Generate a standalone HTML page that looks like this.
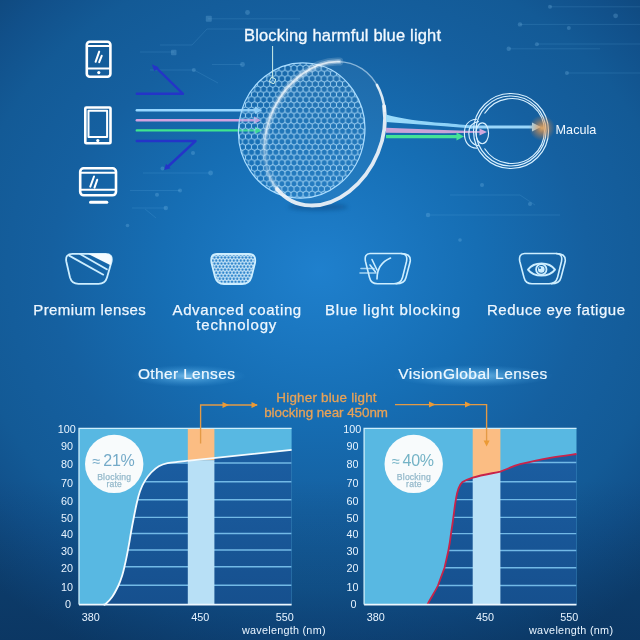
<!DOCTYPE html>
<html><head><meta charset="utf-8"><title>Blue light blocking lenses</title>
<style>
html,body{margin:0;padding:0;width:640px;height:640px;overflow:hidden;background:#114a80}
svg{display:block}
text{font-family:"Liberation Sans",Arial,sans-serif}
</style></head><body>
<svg width="640" height="640" viewBox="0 0 640 640">
<defs>
  <radialGradient id="bg" cx="320" cy="270" r="480" gradientUnits="userSpaceOnUse" gradientTransform="translate(320 270) scale(1 0.896) translate(-320 -270)">
    <stop offset="0" stop-color="#1f80cd"/>
    <stop offset="0.33" stop-color="#166eb4"/>
    <stop offset="0.56" stop-color="#1560a0"/>
    <stop offset="0.74" stop-color="#135a96"/>
    <stop offset="0.85" stop-color="#11508a"/>
    <stop offset="1" stop-color="#0e4273"/>
  </radialGradient>
  <linearGradient id="bgdark" x1="0" y1="0" x2="0" y2="640" gradientUnits="userSpaceOnUse">
    <stop offset="0" stop-color="#051e40" stop-opacity="0"/>
    <stop offset="0.75" stop-color="#051e40" stop-opacity="0"/>
    <stop offset="1" stop-color="#051e40" stop-opacity="0.3"/>
  </linearGradient>
  <pattern id="hex" width="6.062" height="10.500" patternUnits="userSpaceOnUse" x="0" y="0">
    <rect width="6.062" height="10.500" fill="#2a7abf" fill-opacity="0.12"/>
    <path d="M0.00,-3.50 L3.03,-1.75 L3.03,1.75 L0.00,3.50 L-3.03,1.75 L-3.03,-1.75 Z M6.06,-3.50 L9.09,-1.75 L9.09,1.75 L6.06,3.50 L3.03,1.75 L3.03,-1.75 Z M3.03,1.75 L6.06,3.50 L6.06,7.00 L3.03,8.75 L-0.00,7.00 L0.00,3.50 Z M0.00,7.00 L3.03,8.75 L3.03,12.25 L0.00,14.00 L-3.03,12.25 L-3.03,8.75 Z M6.06,7.00 L9.09,8.75 L9.09,12.25 L6.06,14.00 L3.03,12.25 L3.03,8.75 Z M-3.03,1.75 L0.00,3.50 L0.00,7.00 L-3.03,8.75 L-6.06,7.00 L-6.06,3.50 Z M9.09,1.75 L12.12,3.50 L12.12,7.00 L9.09,8.75 L6.06,7.00 L6.06,3.50 Z" fill="none" stroke="#a6d8f8" stroke-width="0.95" stroke-opacity="0.9"/>
  </pattern>
  <pattern id="hexs" width="3.5" height="6.06" patternUnits="userSpaceOnUse" x="211" y="253">
    <rect width="3.5" height="6.06" fill="#d6eefc"/>
    <circle cx="1.75" cy="1.52" r="1.28" fill="#2f86cc"/>
    <circle cx="0" cy="4.55" r="1.28" fill="#2f86cc"/>
    <circle cx="3.5" cy="4.55" r="1.28" fill="#2f86cc"/>
  </pattern>
  <clipPath id="meshclip"><ellipse cx="301.7" cy="130.5" rx="63.1" ry="67.75" transform="rotate(8.63 301.7 130.5)"/></clipPath>
  <radialGradient id="glowO" cx="0.5" cy="0.5" r="0.5">
    <stop offset="0" stop-color="#f7b060" stop-opacity="0.9"/>
    <stop offset="0.35" stop-color="#e8964a" stop-opacity="0.6"/>
    <stop offset="1" stop-color="#d08040" stop-opacity="0"/>
  </radialGradient>
  <radialGradient id="titleGlow" cx="0.5" cy="0.5" r="0.5">
    <stop offset="0" stop-color="#90d2fa" stop-opacity="0.75"/>
    <stop offset="0.45" stop-color="#6cc0f4" stop-opacity="0.4"/>
    <stop offset="1" stop-color="#4aa6e6" stop-opacity="0"/>
  </radialGradient>
  <linearGradient id="beamB" x1="0" y1="0" x2="1" y2="0">
    <stop offset="0" stop-color="#9cdcfb"/>
    <stop offset="1" stop-color="#86cdf6"/>
  </linearGradient>
  <linearGradient id="arcfade" x1="0" y1="60" x2="0" y2="190" gradientUnits="userSpaceOnUse">
    <stop offset="0" stop-color="#ffffff" stop-opacity="1"/>
    <stop offset="0.55" stop-color="#f4faff" stop-opacity="0.85"/>
    <stop offset="0.8" stop-color="#f4faff" stop-opacity="0.25"/>
    <stop offset="1" stop-color="#f4faff" stop-opacity="0.7"/>
  </linearGradient>
  <clipPath id="clipL"><path d="M103.6,604.6 C103.9,604.5 104.1,605.3 105.6,604.0 C107.0,602.7 110.2,599.7 112.3,596.7 C114.4,593.7 116.5,589.5 118.2,586.0 C119.9,582.5 121.1,579.0 122.2,575.5 C123.3,572.0 124.1,568.1 124.9,564.8 C125.7,561.5 126.2,558.8 126.9,555.5 C127.6,552.2 128.2,548.6 128.9,544.9 C129.6,541.1 130.1,537.6 130.9,533.0 C131.7,528.4 132.8,522.6 133.8,517.5 C134.8,512.4 135.9,506.9 136.9,502.5 C137.9,498.1 138.7,494.9 140.0,491.2 C141.3,487.6 143.1,483.7 145.0,480.6 C146.9,477.5 149.0,474.9 151.2,472.5 C153.5,470.1 156.0,467.8 158.8,466.2 C161.5,464.7 164.4,463.8 167.5,463.1 C170.6,462.4 175.4,462.1 177.5,461.9 L291.6,449.8 L291.6,604.6 Z"/></clipPath>
  <clipPath id="clipR"><path d="M427.3,604.6 C432,596 436,590 438,585.5 C441,577 443,572 444.5,567.7 C446,561 447.5,555 448.4,550.5 C449.7,544 450.5,538 451,533.6 C452,527 453,521 453.4,517.2 C454.5,509 455,504 455.8,500 C457,492 459,485 462.5,482 C466,480 470,478.5 472.7,477.6 C482,475 492,473.4 500.4,471.6 C506,469.6 513,466 520,464.2 C530,461.8 540,459.6 550,457.8 C560,456.2 570,454.9 576.5,454 L576.5,604.6 Z"/></clipPath>
  <linearGradient id="darkg" x1="0" y1="450" x2="0" y2="605" gradientUnits="userSpaceOnUse">
    <stop offset="0" stop-color="#1b5ea2"/>
    <stop offset="1" stop-color="#16508e"/>
  </linearGradient>
  <filter id="soft" x="-10%" y="-10%" width="120%" height="120%"><feGaussianBlur stdDeviation="0.7"/></filter>
  <filter id="blur2" x="-50%" y="-200%" width="200%" height="500%"><feGaussianBlur stdDeviation="2"/></filter>
  <marker id="ah" viewBox="0 0 10 10" refX="8" refY="5" markerWidth="4" markerHeight="4" orient="auto">
    <path d="M0,0 L10,5 L0,10 z" fill="context-stroke"/>
  </marker>
</defs>

<!-- background -->
<rect width="640" height="640" fill="url(#bg)"/>
<rect width="640" height="640" fill="url(#bgdark)"/>

<!-- faint circuit decorations -->
<g fill="none" stroke="#7cc4f0" stroke-width="0.9" opacity="0.16" filter="url(#soft)">
  <polyline points="160,45 192,45 207,29 280,29"/>
  <line x1="208" y1="18.8" x2="300" y2="18.8"/>
  <line x1="212" y1="64.5" x2="242" y2="64.5"/>
  <polyline points="150,70 194,70 218,83"/>
  <polyline points="140,52 174,52"/>
  <line x1="520" y1="24.4" x2="640" y2="24.4"/>
  <line x1="509" y1="48.8" x2="600" y2="48.8"/>
  <line x1="537" y1="44" x2="640" y2="44"/>
  <line x1="567" y1="73" x2="640" y2="73"/>
  <line x1="550" y1="6.8" x2="640" y2="6.8"/>
  <line x1="430" y1="215" x2="560" y2="215"/>
  <polyline points="450,195 520,195 535,205"/>
  <line x1="143" y1="173" x2="210" y2="173"/>
  <line x1="130" y1="190.5" x2="180" y2="190.5"/>
  <line x1="132" y1="208" x2="166" y2="208"/>
  <line x1="145" y1="209" x2="156" y2="218"/>
</g>
<g fill="#8ccaf2" opacity="0.24" filter="url(#soft)">
  <rect x="205.8" y="15.8" width="6" height="6" rx="1"/>
  <rect x="171" y="49.8" width="5.5" height="5.5" rx="1"/>
  <circle cx="247.5" cy="12.5" r="2.4"/>
  <circle cx="242.5" cy="64.5" r="2.4"/>
  <circle cx="193.8" cy="70" r="2"/>
  <circle cx="520" cy="24.4" r="2.2"/>
  <circle cx="508.7" cy="48.8" r="2.2"/>
  <circle cx="550" cy="6.8" r="2"/>
  <circle cx="536.9" cy="44.2" r="2"/>
  <circle cx="615.6" cy="15.8" r="2.4"/>
  <circle cx="568.8" cy="28" r="2"/>
  <circle cx="566.9" cy="73" r="2"/>
  <circle cx="428" cy="215" r="2.2"/>
  <circle cx="482" cy="185" r="2"/>
  <circle cx="530" cy="204" r="2"/>
  <circle cx="460" cy="240" r="1.8"/>
  <circle cx="210.6" cy="173" r="2.4"/>
  <circle cx="180" cy="190.5" r="2"/>
  <circle cx="157" cy="194.8" r="2"/>
  <circle cx="165.8" cy="208" r="2.2"/>
  <circle cx="127.5" cy="225.5" r="1.8"/>
  <circle cx="162.5" cy="168.6" r="2"/>
  <circle cx="193" cy="153" r="2"/>
</g>

<!-- ========== TOP ILLUSTRATION ========== -->
<!-- device icons -->
<g fill="none" stroke="#ffffff" stroke-width="2.6" stroke-linejoin="round" stroke-linecap="round">
  <!-- phone -->
  <rect x="86.8" y="41.8" width="23.6" height="35" rx="3"/>
  <line x1="87" y1="46" x2="110" y2="46" stroke-width="2"/>
  <line x1="87" y1="68.5" x2="110" y2="68.5" stroke-width="2"/>
  <line x1="99.2" y1="51.6" x2="95.6" y2="61.8" stroke-width="2"/>
  <line x1="101.7" y1="55.8" x2="99.2" y2="62.2" stroke-width="2"/>
  <!-- tablet -->
  <rect x="85.3" y="107.5" width="25.2" height="35.8" rx="1"/>
  <rect x="88.5" y="110.8" width="18.6" height="26.2" stroke-width="2"/>
  <!-- monitor -->
  <rect x="80.2" y="168.3" width="35.8" height="27" rx="3.5"/>
  <line x1="80.5" y1="172.8" x2="116" y2="172.8" stroke-width="2"/>
  <line x1="80.5" y1="189.8" x2="116" y2="189.8" stroke-width="2"/>
  <line x1="94" y1="176.5" x2="90.3" y2="186.6" stroke-width="2"/>
  <line x1="97.2" y1="179.8" x2="94.5" y2="187.6" stroke-width="2"/>
  <line x1="90.5" y1="202.2" x2="106.8" y2="202.2" stroke-width="3"/>
</g>
<circle cx="98.8" cy="72.6" r="1.6" fill="#fff"/>
<circle cx="97.8" cy="140.6" r="1.6" fill="#fff"/>

<!-- incoming rays -->
<g fill="none" stroke-width="2.4" stroke-linecap="round" stroke-linejoin="round">
  <polyline points="136.8,93.8 183,93.8 156,67.5" stroke="#2434c8"/>
  <polyline points="136.8,141 195.5,141 168,166.5" stroke="#2434c8"/>
</g>
<path d="M151.8,64.2 L158.6,67.2 L154.3,71.3 Z" fill="#2434c8"/>
<path d="M164.2,170 L166,163.8 L170.6,168.2 Z" fill="#2434c8"/>

<!-- straight rays to lens -->
<g stroke-width="2.4" stroke-linecap="round">
  <line x1="136.8" y1="110.3" x2="256" y2="110.3" stroke="#96d6ff"/>
  <line x1="136.8" y1="120.2" x2="256" y2="120.2" stroke="#d2a2df"/>
  <line x1="136.8" y1="130.4" x2="256" y2="130.4" stroke="#3fe58f"/>
</g>
<path d="M255,106.6 L262,110.3 L255,114 Z" fill="#96d6ff"/>
<path d="M254,116.5 L261,120.2 L254,123.9 Z" fill="#d2a2df"/>
<path d="M255,126.7 L262,130.4 L255,134.1 Z" fill="#3fe58f"/>

<!-- lens shadow -->
<ellipse cx="318" cy="207" rx="30" ry="3.5" fill="#0a3f78" opacity="0.45" filter="url(#blur2)"/>
<!-- lens mesh face -->
<g clip-path="url(#meshclip)">
  <rect x="230" y="55" width="145" height="155" fill="url(#hex)"/>
</g>
<ellipse cx="301.7" cy="130.5" rx="63.1" ry="67.75" transform="rotate(8.63 301.7 130.5)" fill="none" stroke="#a8dcff" stroke-width="1.2"/>

<!-- lens body -->
<ellipse cx="324.65" cy="133.53" rx="56.577" ry="74.980" transform="rotate(25.248 324.65 133.53)" fill="#ffffff" fill-opacity="0.045"/>
<!-- front white arc (soft) -->
<path d="M339.26,61.58 A56.577,74.980 25.248 0 0 277.10,189.00" fill="none" stroke="url(#arcfade)" stroke-width="8" stroke-opacity="0.16" stroke-linecap="round"/>
<path d="M339.26,61.58 A56.577,74.980 25.248 0 0 277.10,189.00" fill="none" stroke="url(#arcfade)" stroke-width="4.5" stroke-opacity="0.35" stroke-linecap="round"/>
<path d="M339.26,61.58 A56.577,74.980 25.248 0 0 277.10,189.00" fill="none" stroke="url(#arcfade)" stroke-width="1.8" stroke-opacity="0.7" stroke-linecap="round"/>
<!-- rim -->
<path d="M337.21,61.55 A56.577,74.980 25.248 0 1 378.89,88.81" fill="none" stroke="#e0f2ff" stroke-width="1.3" stroke-opacity="0.55"/>
<path d="M376.92,84.98 A56.577,74.980 25.248 0 1 384.67,110.79" fill="none" stroke="#eef6fc" stroke-width="2.6" stroke-opacity="0.9" stroke-linecap="round"/>
<path d="M384.08,106.09 A56.577,74.980 25.248 0 1 277.10,189.00" fill="none" stroke="#f1f4f9" stroke-width="3.8" stroke-opacity="0.92" stroke-linecap="round"/>

<!-- beams to eye -->
<path d="M386,114.4 C400,118.5 420,121.2 444,123 C455,124 465,125 472,125.6 L472,128.4 C460,127.6 452,126.9 444,126.3 L386,122 Z" fill="url(#beamB)"/>
<line x1="470" y1="127" x2="534" y2="127" stroke="#9ad6fa" stroke-width="2.8"/>
<path d="M532,122.6 L541,127 L532,131.4 Z" fill="#a6dcfb"/>
<path d="M386,127.7 L444,130 L481,131.3 L481,132.7 L444,133.3 L386,132.8 Z" fill="#caa2d8"/>
<path d="M479.5,128.4 L487,132 L479.5,135.6 Z" fill="#d0a8dc"/>
<line x1="386" y1="136.6" x2="458" y2="136.6" stroke="#45e396" stroke-width="3.4"/>
<path d="M456.5,132.6 L464,136.6 L456.5,140.6 Z" fill="#45e396"/>

<!-- eye -->
<g fill="none" stroke="#d8f0ff" stroke-width="1.15">
  <circle cx="511" cy="131" r="37.5"/>
  <circle cx="511" cy="131" r="35"/>
  <path d="M484.5,113.5 A32.5,32.5 0 1 1 484.5,148.5"/>
  <path d="M477,119.2 C468,119.5 464.4,126 464.4,133.5 C464.4,141 468,148 477,148.2"/>
  <path d="M479,121.5 C471.5,122.5 468.8,128 468.8,133.5 C468.8,139 471.5,145 479,145.8"/>
  <ellipse cx="482.3" cy="133.3" rx="6.3" ry="10.4"/>
</g>
<circle cx="542" cy="128" r="13" fill="url(#glowO)"/>
<!-- callout for lens -->
<line x1="272.6" y1="46" x2="272.6" y2="77.6" stroke="#cdeee6" stroke-width="1"/>
<rect x="270" y="77.9" width="5.2" height="5.2" rx="1.5" fill="none" stroke="#cdeee6" stroke-width="1" transform="rotate(25 272.6 80.5)"/>

<text x="244" y="40.7" font-size="16.5" fill="#f2f9ff" stroke="#f2f9ff" stroke-width="0.3" textLength="197" lengthAdjust="spacing">Blocking harmful blue light</text>
<text x="555.6" y="133.8" font-size="12.6" fill="#f2f9ff" textLength="40.7" lengthAdjust="spacing">Macula</text>

<!-- ========== FEATURE ICONS ========== -->
<g fill="none" stroke="#cdeeff" stroke-width="1.8" stroke-linejoin="round">
  <!-- icon1 -->
  <path d="M72.5,253.8 L105.5,253.8 C110.5,253.8 112.5,256.5 111.6,261.5 L107,277.5 C105.8,281.8 103,283.8 98.5,283.8 L78.5,283.8 C74,283.8 71.2,281.8 70,277.5 L66.3,261.5 C65.4,256.5 67.5,253.8 72.5,253.8 Z"/>
  <line x1="68.7" y1="255.4" x2="103.8" y2="275"/>
  <line x1="79.6" y1="253.8" x2="107.6" y2="269.8"/>
</g>
<path d="M87.8,253.8 L105.5,253.8 C110.5,253.8 112.5,256.5 111.6,261.5 L110.6,265.3 Z" fill="#f4fbff"/>
<!-- icon2 (mesh) -->
<path d="M217,254 L249,254 C254,254 256,257 255,263 L251.5,277 C250,282 247,284 242,284 L224,284 C219,284 216.5,282 215,277 L211.5,263 C210.5,257 212,254 217,254 Z" fill="url(#hexs)" stroke="#cdeeff" stroke-width="1.8"/>
<!-- icon3 -->
<g fill="none" stroke="#cdeeff" stroke-width="1.6" stroke-linejoin="round" stroke-linecap="round">
  <path d="M370,253.5 L401,253.5 C406,253.5 407.5,256.5 406.5,261.5 L402.5,277.5 C401.3,282 398.5,283.8 394,283.8 L377.5,283.8 C373,283.8 370.5,281.8 369.5,277.5 L365.5,261.5 C364.5,256.5 366,253.5 370,253.5 Z"/>
  <path d="M401,253.5 C407,253.5 411,255.5 410.2,261.5 L406,277.5 C405,282 402,283.8 396,283.8"/>
  <path d="M377,279 C377,270 381,262 390.5,258"/>
  <line x1="372" y1="259.5" x2="377" y2="270"/>
  <line x1="370" y1="265" x2="375.5" y2="272"/>
  <line x1="361" y1="268.5" x2="374" y2="268.5" stroke-opacity="0.75"/>
  <line x1="360" y1="273" x2="376" y2="273" stroke-opacity="0.75"/>
</g>
<!-- icon4 -->
<g fill="none" stroke="#cdeeff" stroke-width="1.6" stroke-linejoin="round">
  <path d="M524.5,253.5 L556,253.5 C561,253.5 562.5,256.5 561.5,261.5 L557.5,277.5 C556.3,282 553.5,283.8 549,283.8 L532,283.8 C527.5,283.8 525,281.8 524,277.5 L519.8,261.5 C518.8,256.5 520.5,253.5 524.5,253.5 Z"/>
  <path d="M556,253.5 C562,253.5 566,255.5 565.2,261.5 L561,277.5 C560,282 557,283.8 551,283.8"/>
  <path d="M528,269.6 C534,261.5 549,261.5 555,269.6 C549,277.6 534,277.6 528,269.6 Z" stroke-width="1.9"/>
  <circle cx="541.3" cy="269.4" r="5.2" stroke-width="1.8"/>
</g>
<circle cx="541.3" cy="269.4" r="3.3" fill="#cdeeff"/>
<circle cx="540" cy="268" r="1.1" fill="#1a6fb8"/>

<!-- labels -->
<g font-size="15" fill="#eef7ff" stroke="#eef7ff" stroke-width="0.25">
  <text x="33.3" y="315" textLength="112.5" lengthAdjust="spacing">Premium lenses</text>
  <text x="172.5" y="315" textLength="128.7" lengthAdjust="spacing">Advanced coating</text>
  <text x="196.3" y="330" textLength="80" lengthAdjust="spacing">technology</text>
  <text x="325" y="315" textLength="135" lengthAdjust="spacing">Blue light blocking</text>
  <text x="487" y="315" textLength="138" lengthAdjust="spacing">Reduce eye fatigue</text>
</g>

<!-- ========== CHARTS ========== -->
<ellipse cx="188" cy="376" rx="58" ry="11" fill="url(#titleGlow)"/>
<ellipse cx="473" cy="376" rx="80" ry="11" fill="url(#titleGlow)"/>
<text x="137.9" y="379" font-size="15.5" fill="#eef8ff" stroke="#eef8ff" stroke-width="0.2" textLength="97" lengthAdjust="spacing">Other Lenses</text>
<text x="398.3" y="379" font-size="15.5" fill="#eef8ff" stroke="#eef8ff" stroke-width="0.2" textLength="149" lengthAdjust="spacing">VisionGlobal Lenses</text>

<g font-size="13.4" fill="#e8a257" stroke="#e8a257" stroke-width="0.3">
  <text x="276.3" y="401.5" textLength="100.3" lengthAdjust="spacing">Higher blue light</text>
  <text x="264.2" y="416.6" textLength="123.8" lengthAdjust="spacing">blocking near 450nm</text>
</g>

<!-- LEFT CHART -->
<g id="chartL">
  <rect x="79" y="428.4" width="212.6" height="176.2" fill="#58b8e2"/>
  <path d="M103.6,604.6 C103.9,604.5 104.1,605.3 105.6,604.0 C107.0,602.7 110.2,599.7 112.3,596.7 C114.4,593.7 116.5,589.5 118.2,586.0 C119.9,582.5 121.1,579.0 122.2,575.5 C123.3,572.0 124.1,568.1 124.9,564.8 C125.7,561.5 126.2,558.8 126.9,555.5 C127.6,552.2 128.2,548.6 128.9,544.9 C129.6,541.1 130.1,537.6 130.9,533.0 C131.7,528.4 132.8,522.6 133.8,517.5 C134.8,512.4 135.9,506.9 136.9,502.5 C137.9,498.1 138.7,494.9 140.0,491.2 C141.3,487.6 143.1,483.7 145.0,480.6 C146.9,477.5 149.0,474.9 151.2,472.5 C153.5,470.1 156.0,467.8 158.8,466.2 C161.5,464.7 164.4,463.8 167.5,463.1 C170.6,462.4 175.4,462.1 177.5,461.9 L291.6,449.8 L291.6,604.6 Z" fill="url(#darkg)"/>
  <g stroke="#72b9e6" stroke-width="1.4" clip-path="url(#clipL)">
    <line x1="79" y1="463" x2="291.6" y2="463"/>
    <line x1="79" y1="481.7" x2="291.6" y2="481.7"/>
    <line x1="79" y1="499.7" x2="291.6" y2="499.7"/>
    <line x1="79" y1="517.4" x2="291.6" y2="517.4"/>
    <line x1="79" y1="533.5" x2="291.6" y2="533.5"/>
    <line x1="79" y1="550" x2="291.6" y2="550"/>
    <line x1="79" y1="566.7" x2="291.6" y2="566.7"/>
    <line x1="79" y1="585.3" x2="291.6" y2="585.3"/>
  </g>
  <rect x="187.8" y="428.4" width="26.6" height="32" fill="#fbbd83"/>
  <rect x="187.8" y="460.2" width="26.6" height="144.4" fill="#b8e0f6"/>
  <path d="M103.6,604.6 C103.9,604.5 104.1,605.3 105.6,604.0 C107.0,602.7 110.2,599.7 112.3,596.7 C114.4,593.7 116.5,589.5 118.2,586.0 C119.9,582.5 121.1,579.0 122.2,575.5 C123.3,572.0 124.1,568.1 124.9,564.8 C125.7,561.5 126.2,558.8 126.9,555.5 C127.6,552.2 128.2,548.6 128.9,544.9 C129.6,541.1 130.1,537.6 130.9,533.0 C131.7,528.4 132.8,522.6 133.8,517.5 C134.8,512.4 135.9,506.9 136.9,502.5 C137.9,498.1 138.7,494.9 140.0,491.2 C141.3,487.6 143.1,483.7 145.0,480.6 C146.9,477.5 149.0,474.9 151.2,472.5 C153.5,470.1 156.0,467.8 158.8,466.2 C161.5,464.7 164.4,463.8 167.5,463.1 C170.6,462.4 175.4,462.1 177.5,461.9 L291.6,449.8" fill="none" stroke="#f4fbff" stroke-width="1.8"/>
  <polyline points="79,604.6 79,428.4 291.6,428.4" fill="none" stroke="#cdeefc" stroke-width="1.3"/>
  <line x1="79" y1="604.6" x2="291.6" y2="604.6" stroke="#eef8ff" stroke-width="1.8"/>
  <circle cx="114.2" cy="463.9" r="29.2" fill="#f8fbfc"/>
  <text x="92.6" y="465.6" font-size="14.5" fill="#74aac8">≈</text><text x="103.3" y="466.1" font-size="16" fill="#74aac8" textLength="31.4" lengthAdjust="spacing">21%</text>
  <text x="114.2" y="479.6" font-size="8.6" fill="#94b9cb" stroke="#94b9cb" stroke-width="0.25" text-anchor="middle" letter-spacing="0.2">Blocking</text>
  <text x="114.2" y="487.2" font-size="8.6" fill="#94b9cb" stroke="#94b9cb" stroke-width="0.25" text-anchor="middle" letter-spacing="0.2">rate</text>
</g>

<!-- RIGHT CHART -->
<g id="chartR">
  <rect x="364.1" y="428.4" width="212.4" height="176.2" fill="#58b8e2"/>
  <path d="M427.3,604.6 C432,596 436,590 438,585.5 C441,577 443,572 444.5,567.7 C446,561 447.5,555 448.4,550.5 C449.7,544 450.5,538 451,533.6 C452,527 453,521 453.4,517.2 C454.5,509 455,504 455.8,500 C457,492 459,485 462.5,482 C466,480 470,478.5 472.7,477.6 C482,475 492,473.4 500.4,471.6 C506,469.6 513,466 520,464.2 C530,461.8 540,459.6 550,457.8 C560,456.2 570,454.9 576.5,454 L576.5,604.6 Z" fill="url(#darkg)"/>
  <g stroke="#72b9e6" stroke-width="1.4" clip-path="url(#clipR)">
    <line x1="364" y1="462.5" x2="576.5" y2="462.5"/>
    <line x1="364" y1="481.8" x2="576.5" y2="481.8"/>
    <line x1="364" y1="499.6" x2="576.5" y2="499.6"/>
    <line x1="364" y1="517.4" x2="576.5" y2="517.4"/>
    <line x1="364" y1="533.6" x2="576.5" y2="533.6"/>
    <line x1="364" y1="550.5" x2="576.5" y2="550.5"/>
    <line x1="364" y1="567.7" x2="576.5" y2="567.7"/>
    <line x1="364" y1="585.5" x2="576.5" y2="585.5"/>
  </g>
  <path d="M472.7,428.4 L500.4,428.4 L500.4,471.6 C492,473.4 482,475 472.7,477.6 Z" fill="#fbbd83"/>
  <path d="M472.7,477.6 C482,475 492,473.4 500.4,471.6 L500.4,604.6 L472.7,604.6 Z" fill="#b9e1f7"/>
  <path d="M427.3,604.6 C432,596 436,590 438,585.5 C441,577 443,572 444.5,567.7 C446,561 447.5,555 448.4,550.5 C449.7,544 450.5,538 451,533.6 C452,527 453,521 453.4,517.2 C454.5,509 455,504 455.8,500 C457,492 459,485 462.5,482 C466,480 470,478.5 472.7,477.6 C482,475 492,473.4 500.4,471.6 C506,469.6 513,466 520,464.2 C530,461.8 540,459.6 550,457.8 C560,456.2 570,454.9 576.5,454" fill="none" stroke="#c8234a" stroke-width="1.8"/>
  <polyline points="364.1,604.6 364.1,428.4 576.5,428.4" fill="none" stroke="#cdeefc" stroke-width="1.3"/>
  <line x1="364.1" y1="604.6" x2="576.5" y2="604.6" stroke="#eef8ff" stroke-width="1.8"/>
  <circle cx="413.7" cy="463.9" r="29.2" fill="#f8fbfc"/>
  <text x="391.9" y="465.6" font-size="14.5" fill="#74b3c6">≈</text><text x="402.6" y="466.1" font-size="16" fill="#74b3c6" textLength="31.4" lengthAdjust="spacing">40%</text>
  <text x="413.9" y="479.6" font-size="8.6" fill="#94b9cb" stroke="#94b9cb" stroke-width="0.25" text-anchor="middle" letter-spacing="0.2">Blocking</text>
  <text x="413.9" y="487.2" font-size="8.6" fill="#94b9cb" stroke="#94b9cb" stroke-width="0.25" text-anchor="middle" letter-spacing="0.2">rate</text>
</g>

<!-- y-axis labels -->
<g font-size="10.8" fill="#e8f4ff" text-anchor="middle">
  <text x="66.8" y="432.5">100</text><text x="67" y="449.7">90</text><text x="67" y="468">80</text>
  <text x="67" y="486.9">70</text><text x="67" y="504.8">60</text><text x="67" y="522">50</text>
  <text x="67" y="538">40</text><text x="67" y="555">30</text><text x="67" y="572">20</text>
  <text x="67" y="590.5">10</text><text x="68" y="608.3">0</text>
  <text x="352.3" y="432.5">100</text><text x="352.5" y="449.7">90</text><text x="352.5" y="468">80</text>
  <text x="352.5" y="486.9">70</text><text x="352.5" y="504.8">60</text><text x="352.5" y="522">50</text>
  <text x="352.5" y="538">40</text><text x="352.5" y="555">30</text><text x="352.5" y="572">20</text>
  <text x="352.5" y="590.5">10</text><text x="353.5" y="608.3">0</text>
</g>
<!-- x-axis labels -->
<g font-size="10.8" fill="#e8f4ff">
  <text x="81.7" y="621">380</text><text x="191.3" y="621">450</text><text x="275.8" y="621">550</text>
  <text x="366.7" y="621">380</text><text x="476" y="621">450</text><text x="560.3" y="621">550</text>
  <text x="242" y="634.3" textLength="83.5" lengthAdjust="spacing">wavelength (nm)</text>
  <text x="529" y="634.3" textLength="84" lengthAdjust="spacing">wavelength (nm)</text>
</g>

<!-- orange callout arrows -->
<g fill="none" stroke="#e49a45" stroke-width="1.35">
  <polyline points="200.6,443.4 200.6,405 257,405"/>
  <polyline points="395,404.6 486.6,404.6 486.6,443"/>
</g>
<g fill="#eb9a35">
  <path d="M222.5,402 L229,405 L222.5,408 Z"/>
  <path d="M251.5,402 L258,405 L251.5,408 Z"/>
  <path d="M429,401.6 L435.5,404.6 L429,407.6 Z"/>
  <path d="M465,401.6 L471.5,404.6 L465,407.6 Z"/>
  <path d="M483.6,440.5 L486.6,446.5 L489.6,440.5 Z"/>
</g>
</svg>
</body></html>
